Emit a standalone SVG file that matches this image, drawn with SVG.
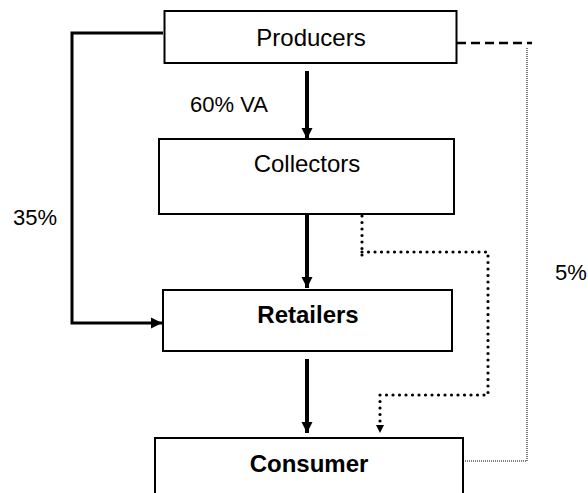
<svg xmlns="http://www.w3.org/2000/svg" width="588" height="493" viewBox="0 0 588 493">
<style>
.box{fill:#fff;stroke:#000;stroke-width:2}
.t{font-family:"Liberation Sans",Arial,sans-serif;font-size:24px;fill:#000;text-anchor:middle}
.b{font-weight:bold}
.lbl{font-family:"Liberation Sans",Arial,sans-serif;font-size:22px;fill:#000}
.thick{fill:none;stroke:#000;stroke-width:4}
.med{fill:none;stroke:#000;stroke-width:3}
.dash{fill:none;stroke:#000;stroke-width:2.5;stroke-dasharray:9 5}
.fine{fill:none;stroke:#000;stroke-width:1;stroke-dasharray:1 1}
.dots{fill:none;stroke:#000;stroke-width:3.2;stroke-linecap:round;stroke-dasharray:0 6.5}
</style>
<defs>
<marker id="ah" markerUnits="userSpaceOnUse" markerWidth="12" markerHeight="12" refX="11" refY="6" orient="auto">
<path d="M0,0.5 L11,6 L0,11.5 z" fill="#000"/>
</marker>
</defs>
<g id="connectors">
<path class="thick" d="M307,71 V139" marker-end="url(#ah)"/>
<path class="thick" d="M307,214 V288" marker-end="url(#ah)"/>
<path class="thick" d="M307,359 V433" marker-end="url(#ah)"/>
<path class="med" d="M163,33 H72 V323 H162" marker-end="url(#ah)"/>
<path class="dash" d="M457,43 H532"/>
<path class="fine" d="M527,48 V461 H464"/>
<path class="dots" d="M362,216 V261"/>
<path class="dots" d="M362,252 H488 V395 H380 V424"/>
<path d="M376,425 L384,425 L380,433 z" fill="#000"/>
</g>
<g id="producers">
<rect class="box" x="164.5" y="11" width="292" height="52"/>
<text class="t" x="311" y="46">Producers</text>
</g>
<g id="collectors">
<rect class="box" x="159" y="139" width="295" height="75"/>
<text class="t" x="307" y="172">Collectors</text>
</g>
<g id="retailers">
<rect class="box" x="163" y="290" width="289" height="61"/>
<text class="t b" x="308" y="323">Retailers</text>
</g>
<g id="consumer">
<rect class="box" x="155" y="438" width="308" height="70"/>
<text class="t b" x="309" y="472">Consumer</text>
</g>
<g id="labels">
<text class="lbl" x="190" y="112">60% VA</text>
<text class="lbl" x="13" y="225">35%</text>
<text class="lbl" x="555" y="280">5%</text>
</g>
</svg>
